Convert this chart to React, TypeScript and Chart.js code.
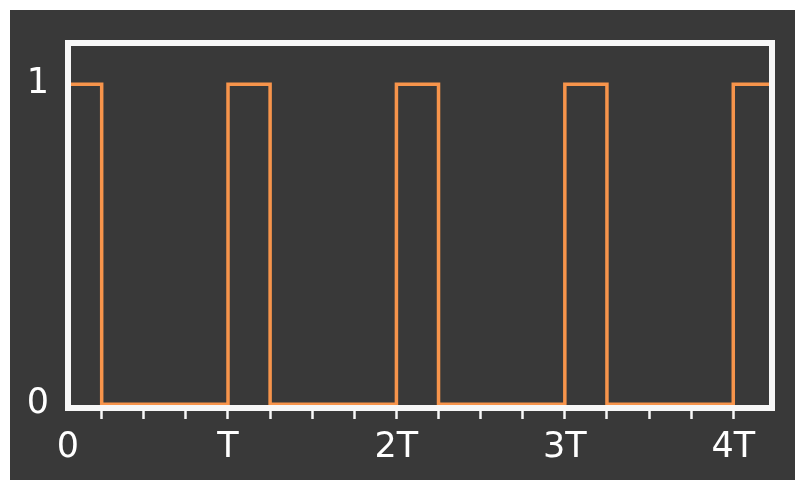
import React, { useEffect, useRef } from "react";
import { Chart, registerables } from "chart.js";

Chart.register(...registerables);

// Signal transitions (x in units of T), stepped "before"
const signalX = [0, 0.25, 1, 1.25, 2, 2.25, 3, 3.25, 4, 4.25];
const signalY = [1, 0, 1, 0, 1, 0, 1, 0, 1, 0];

const xMin = 0.05;
const xMax = 4.23;
const yMin = -0.012;
const yMax = 1.129;

// tick positions along x (first one sits at the left edge, labelled "0")
const xTickValues = [xMin, 0.25, 0.5, 0.75, 1, 1.25, 1.5, 1.75, 2, 2.25, 2.5, 2.75, 3, 3.25, 3.5, 3.75, 4];
const xTickLabels = ["0", "T", "2T", "3T", "4T"];
const yTickValues = [0, 1];
const yTickLabels = ["0", "1"];

const FONT = "'DejaVu Sans', Verdana, sans-serif";

const frame = {
  id: "frame",
  afterDatasetsDraw(chart: any) {
    const { ctx, chartArea } = chart;
    ctx.save();
    ctx.strokeStyle = "#f7f7f7";
    ctx.lineWidth = 6;
    ctx.strokeRect(chartArea.left, chartArea.top, chartArea.right - chartArea.left, chartArea.bottom - chartArea.top);
    ctx.restore();
  },
};

export default function App() {
  const ref = useRef<HTMLCanvasElement | null>(null);

  useEffect(() => {
    if (!ref.current) return;
    const data = signalX.map((x, i) => ({ x, y: signalY[i] }));
    const chart = new Chart(ref.current, {
      type: "line",
      data: {
        datasets: [
          {
            data,
            stepped: "before",
            borderColor: "#f7944b",
            borderWidth: 3.5,
            pointRadius: 0,
            fill: false,
            tension: 0,
          },
        ],
      },
      options: {
        animation: false,
        responsive: false,
        devicePixelRatio: 1,
        layout: { padding: { left: 0, right: 23, top: 43, bottom: 0 } },
        plugins: { legend: { display: false }, tooltip: { enabled: false } },
        scales: {
          x: {
            type: "linear",
            min: xMin,
            max: xMax,
            afterBuildTicks: (scale: any) => {
              scale.ticks = xTickValues.map((v) => ({ value: v }));
            },
            afterFit: (scale: any) => {
              scale.height = 72;
            },
            border: { display: false },
            grid: {
              display: true,
              drawOnChartArea: false,
              drawTicks: true,
              tickLength: 11,
              tickWidth: 2.5,
              tickColor: (c: any) => (c.index === 0 ? "rgba(0,0,0,0)" : "#f7f7f7"),
            },
            ticks: {
              autoSkip: false,
              maxRotation: 0,
              padding: 8,
              color: "#ffffff",
              font: { family: FONT, size: 35 },
              callback: (value: any, index: number) => {
                if (index === 0) return xTickLabels[0];
                const v = Number(value);
                if (Number.isInteger(v) && v >= 1 && v < xTickLabels.length) return xTickLabels[v];
                return "";
              },
            },
          },
          y: {
            type: "linear",
            min: yMin,
            max: yMax,
            afterBuildTicks: (scale: any) => {
              scale.ticks = yTickValues.map((v) => ({ value: v }));
            },
            afterFit: (scale: any) => {
              scale.width = 68;
            },
            border: { display: false },
            grid: { display: false, drawTicks: false },
            ticks: {
              padding: 19,
              color: "#ffffff",
              font: { family: FONT, size: 35 },
              callback: (value: any) => {
                const idx = yTickValues.indexOf(Number(value));
                return idx >= 0 ? yTickLabels[idx] : "";
              },
            },
          },
        },
      },
      plugins: [frame],
    });
    return () => chart.destroy();
  }, []);

  return (
    <div style={{ position: "fixed", left: 0, top: 0, width: 795, height: 480, background: "#ffffff", overflow: "hidden" }}>
      <div style={{ position: "absolute", left: 10, top: 10, right: 0, bottom: 0, background: "#393939" }} />
      <canvas ref={ref} width={795} height={480} style={{ position: "absolute", left: 0, top: 0, width: 795, height: 480 }} />
    </div>
  );
}
